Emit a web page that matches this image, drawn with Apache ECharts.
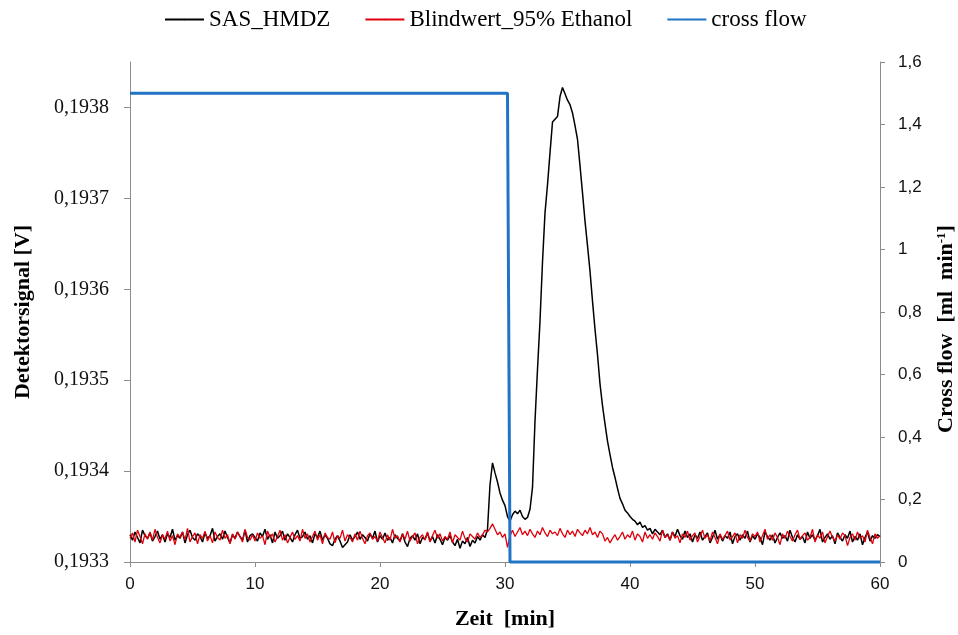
<!DOCTYPE html>
<html>
<head>
<meta charset="utf-8">
<title>Detektorsignal / Cross flow</title>
<script src="https://cdn.jsdelivr.net/npm/echarts@6/dist/echarts.min.js"></script>
<style>
  html, body { margin: 0; padding: 0; background: #ffffff; }
  #chart { width: 958px; height: 635px; }
</style>
</head>
<body>
<div id="chart"></div>
<script>
// Detector signal sampled every 0.2 min from 0 to 60 min
const sampleStepMin = 0.2;

const seriesNames = ['SAS_HMDZ', 'Blindwert_95% Ethanol', 'cross flow'];

// SAS_HMDZ detector signal [V]
const sasHmdz = [
  0.193330,0.193324,0.193333,0.193327,0.193321,0.193335,0.193329,0.193326,0.193332,0.193323,
  0.193328,0.193334,0.193325,0.193330,0.193322,0.193331,0.193327,0.193336,0.193324,0.193329,
  0.193326,0.193333,0.193321,0.193330,0.193335,0.193327,0.193324,0.193331,0.193328,0.193322,
  0.193332,0.193326,0.193329,0.193337,0.193323,0.193328,0.193331,0.193325,0.193334,0.193327,
  0.193321,0.193330,0.193326,0.193333,0.193328,0.193324,0.193335,0.193322,0.193329,0.193331,
  0.193327,0.193323,0.193332,0.193328,0.193336,0.193325,0.193330,0.193321,0.193333,0.193326,
  0.193329,0.193334,0.193324,0.193331,0.193327,0.193322,0.193330,0.193335,0.193326,0.193328,
  0.193333,0.193325,0.193329,0.193321,0.193331,0.193327,0.193334,0.193324,0.193330,0.193326,
  0.193320,0.193318,0.193325,0.193329,0.193323,0.193316,0.193319,0.193322,0.193330,0.193324,
  0.193328,0.193333,0.193325,0.193330,0.193327,0.193323,0.193331,0.193326,0.193334,0.193322,
  0.193329,0.193325,0.193332,0.193324,0.193327,0.193321,0.193330,0.193326,0.193323,0.193331,
  0.193322,0.193317,0.193326,0.193329,0.193324,0.193331,0.193320,0.193327,0.193325,0.193332,
  0.193323,0.193328,0.193321,0.193330,0.193325,0.193319,0.193327,0.193324,0.193329,0.193322,
  0.193318,0.193325,0.193315,0.193323,0.193320,0.193327,0.193317,0.193324,0.193321,0.193328,
  0.193324,0.193330,0.193327,0.193336,
  0.193385,0.193409,0.193398,0.193388,0.193376,0.193368,
  0.193362,0.193350,0.193345,0.193352,0.193356,0.193353,0.193357,0.193350,0.193347,0.193349,
  0.193358,0.193382,0.193455,0.193512,0.193565,0.193630,0.193684,0.193715,0.193750,0.193784,
  0.193787,0.193790,0.193812,0.193822,0.193815,0.193808,0.193803,0.193794,0.193780,0.193765,
  0.193736,0.193706,0.193675,0.193648,0.193620,0.193587,0.193556,0.193528,0.193496,0.193472,
  0.193452,0.193433,0.193418,0.193404,0.193393,0.193381,0.193370,0.193364,0.193357,0.193354,
  0.193350,0.193347,0.193345,0.193341,0.193344,0.193338,0.193340,0.193335,0.193337,0.193331,
  0.193336,0.193333,
  0.193330,0.193335,0.193327,0.193331,0.193324,0.193333,0.193328,0.193336,
  0.193329,0.193325,0.193334,0.193327,0.193331,0.193322,0.193330,0.193326,0.193333,0.193324,
  0.193328,0.193332,0.193321,0.193327,0.193335,0.193325,0.193330,0.193323,0.193329,0.193326,
  0.193333,0.193320,0.193328,0.193331,0.193324,0.193330,0.193326,0.193334,0.193322,0.193329,
  0.193325,0.193331,0.193327,0.193319,0.193333,0.193328,0.193324,0.193330,0.193321,0.193327,
  0.193332,0.193326,0.193329,0.193323,0.193335,0.193327,0.193322,0.193330,0.193325,0.193328,
  0.193321,0.193333,0.193326,0.193330,0.193324,0.193329,0.193336,0.193322,0.193327,0.193331,
  0.193325,0.193329,0.193320,0.193332,0.193327,0.193323,0.193330,0.193326,0.193334,0.193322,
  0.193328,0.193324,0.193331,0.193319,0.193327,0.193333,0.193323,0.193329,0.193326,0.193330,
  0.193328
];

// Blank run, 95 % ethanol [V]
const blindwert = [
  0.193326,0.193332,0.193322,0.193335,0.193328,0.193320,0.193331,0.193325,0.193333,0.193324,
  0.193336,0.193327,0.193321,0.193330,0.193325,0.193334,0.193323,0.193329,0.193319,0.193331,
  0.193327,0.193333,0.193324,0.193337,0.193322,0.193328,0.193332,0.193320,0.193330,0.193326,
  0.193334,0.193323,0.193329,0.193321,0.193333,0.193327,0.193324,0.193335,0.193326,0.193330,
  0.193320,0.193331,0.193325,0.193333,0.193328,0.193322,0.193336,0.193327,0.193324,0.193330,
  0.193323,0.193332,0.193326,0.193329,0.193319,0.193334,0.193327,0.193331,0.193322,0.193328,
  0.193335,0.193324,0.193330,0.193321,0.193327,0.193333,0.193325,0.193329,0.193323,0.193336,
  0.193326,0.193331,0.193322,0.193328,0.193334,0.193324,0.193330,0.193320,0.193332,0.193327,
  0.193325,0.193333,0.193321,0.193329,0.193326,0.193335,0.193323,0.193330,0.193327,0.193322,
  0.193331,0.193324,0.193334,0.193326,0.193320,0.193329,0.193332,0.193325,0.193328,0.193323,
  0.193333,0.193327,0.193321,0.193330,0.193324,0.193336,0.193326,0.193329,0.193322,0.193331,
  0.193325,0.193334,0.193323,0.193328,0.193332,0.193320,0.193327,0.193330,0.193324,0.193333,
  0.193322,0.193329,0.193335,0.193326,0.193331,0.193323,0.193328,0.193325,0.193333,0.193321,
  0.193330,0.193327,0.193324,0.193334,0.193326,0.193322,0.193331,0.193328,0.193325,0.193332,
  0.193327,0.193330,0.193335,0.193333,0.193337,0.193342,0.193336,0.193330,0.193333,0.193327,
  0.193331,0.193316,0.193329,0.193335,0.193328,0.193333,0.193338,0.193330,0.193334,0.193329,
  0.193336,0.193331,0.193327,0.193334,0.193330,0.193338,0.193332,0.193328,0.193335,0.193331,
  0.193333,0.193329,0.193337,0.193331,0.193327,0.193335,0.193330,0.193334,0.193328,0.193336,
  0.193332,0.193329,0.193335,0.193331,0.193338,0.193330,0.193333,0.193327,0.193334,0.193331,
  0.193323,0.193327,0.193321,0.193326,0.193330,0.193324,0.193328,0.193333,0.193325,0.193330,
  0.193327,0.193334,0.193324,0.193331,0.193328,0.193322,0.193333,0.193326,0.193330,0.193325,
  0.193332,0.193328,0.193323,0.193335,0.193327,0.193330,0.193324,0.193333,0.193326,0.193329,
  0.193321,0.193331,0.193327,0.193334,0.193324,0.193329,0.193332,0.193322,0.193328,0.193335,
  0.193326,0.193330,0.193323,0.193333,0.193327,0.193320,0.193331,0.193325,0.193329,0.193334,
  0.193324,0.193328,0.193332,0.193321,0.193330,0.193326,0.193335,0.193327,0.193323,0.193331,
  0.193328,0.193333,0.193322,0.193329,0.193336,0.193325,0.193330,0.193324,0.193332,0.193327,
  0.193319,0.193331,0.193326,0.193334,0.193328,0.193323,0.193330,0.193335,0.193325,0.193329,
  0.193332,0.193324,0.193327,0.193336,0.193322,0.193330,0.193326,0.193333,0.193321,0.193328,
  0.193334,0.193327,0.193323,0.193330,0.193325,0.193332,0.193329,0.193318,0.193327,0.193331,
  0.193324,0.193333,0.193326,0.193329,0.193322,0.193335,0.193327,0.193320,0.193331,0.193326,
  0.193329
];

// Cross flow [ml/min] switched off at about 30 min
const crossFlowTime = [0, 30.2, 30.4, 60];
const crossFlowRate = [1.5, 1.5, 0, 0];

// Tick labels
const leftTicks = [0.1933, 0.1934, 0.1935, 0.1936, 0.1937, 0.1938];
const rightTicks = [0, 0.2, 0.4, 0.6, 0.8, 1, 1.2, 1.4, 1.6];
const timeTicks = [0, 10, 20, 30, 40, 50, 60];

const timeMin = sasHmdz.map((_, i) => +(i * sampleStepMin).toFixed(1));
const pairs = (xs, ys) => xs.map((x, i) => [x, ys[i]]);

const axisGrey = '#8c8c8c';
const serif = '"Liberation Serif", "Times New Roman", serif';
const sans = '"Liberation Sans", Arial, sans-serif';
const comma = s => s.replace('.', ',');

const chart = echarts.init(document.getElementById('chart'), null, { renderer: 'canvas' });

chart.setOption({
  animation: false,
  backgroundColor: '#ffffff',
  legend: {
    top: 3,
    left: 159,
    itemWidth: 39,
    itemHeight: 2,
    itemGap: 34,
    data: seriesNames,
    textStyle: { fontFamily: serif, fontSize: 23, color: '#000' }
  },
  grid: { left: 130, right: 78, top: 62, bottom: 73, outerBoundsMode: 'none' },
  xAxis: {
    type: 'value',
    min: timeTicks[0],
    max: timeTicks[timeTicks.length - 1],
    interval: 10,
    name: 'Zeit  [min]',
    nameLocation: 'middle',
    nameGap: 46,
    nameTextStyle: { fontFamily: serif, fontWeight: 'bold', fontSize: 22, color: '#000' },
    axisLine: { lineStyle: { color: axisGrey, width: 1 } },
    axisTick: { show: true, length: 5, lineStyle: { color: axisGrey } },
    axisLabel: { fontFamily: sans, fontSize: 17, color: '#111', margin: 14 },
    splitLine: { show: false }
  },
  yAxis: [
    {
      type: 'value',
      position: 'left',
      min: 0.1933,
      max: 0.19385,
      name: 'Detektorsignal [V]',
      nameLocation: 'middle',
      nameRotate: 90,
      nameGap: 96,
      nameTextStyle: { fontFamily: serif, fontWeight: 'bold', fontSize: 22, color: '#000' },
      axisLine: { show: true, lineStyle: { color: axisGrey, width: 1 } },
      axisTick: { show: true, length: 6, customValues: leftTicks, lineStyle: { color: axisGrey } },
      axisLabel: {
        customValues: leftTicks,
        fontFamily: serif, fontSize: 20, color: '#111', margin: 21,
        formatter: v => comma(v.toFixed(4))
      },
      splitLine: { show: false }
    },
    {
      type: 'value',
      position: 'right',
      min: rightTicks[0],
      max: rightTicks[rightTicks.length - 1],
      interval: 0.2,
      name: 'Cross flow  [ml  min{sup|-1}]',
      nameLocation: 'middle',
      nameRotate: 90,
      nameGap: 55,
      nameTextStyle: {
        fontFamily: serif, fontWeight: 'bold', fontSize: 22, color: '#000',
        padding: [0, 34, 0, 0],
        rich: {
          sup: { fontFamily: serif, fontWeight: 'bold', fontSize: 13, color: '#000', verticalAlign: 'top', lineHeight: 22 }
        }
      },
      axisLine: { show: true, lineStyle: { color: axisGrey, width: 1 } },
      axisTick: { show: true, length: 5, lineStyle: { color: axisGrey } },
      axisLabel: {
        fontFamily: sans, fontSize: 17, color: '#111', margin: 18,
        formatter: v => comma(String(parseFloat(v.toFixed(1))))
      },
      splitLine: { show: false }
    }
  ],
  series: [
    {
      name: seriesNames[0],
      type: 'line',
      yAxisIndex: 0,
      data: pairs(timeMin, sasHmdz),
      showSymbol: false,
      symbol: 'none',
      lineStyle: { color: '#000000', width: 1.5 },
      itemStyle: { color: '#000000' },
      z: 2
    },
    {
      name: seriesNames[1],
      type: 'line',
      yAxisIndex: 0,
      data: pairs(timeMin, blindwert),
      showSymbol: false,
      symbol: 'none',
      lineStyle: { color: '#e0000b', width: 1.3 },
      itemStyle: { color: '#e0000b' },
      z: 3
    },
    {
      name: seriesNames[2],
      type: 'line',
      yAxisIndex: 1,
      data: pairs(crossFlowTime, crossFlowRate),
      showSymbol: false,
      symbol: 'none',
      clip: false,
      lineStyle: { color: '#1f74c6', width: 3 },
      itemStyle: { color: '#1f74c6' },
      z: 4
    }
  ]
});
</script>
</body>
</html>
